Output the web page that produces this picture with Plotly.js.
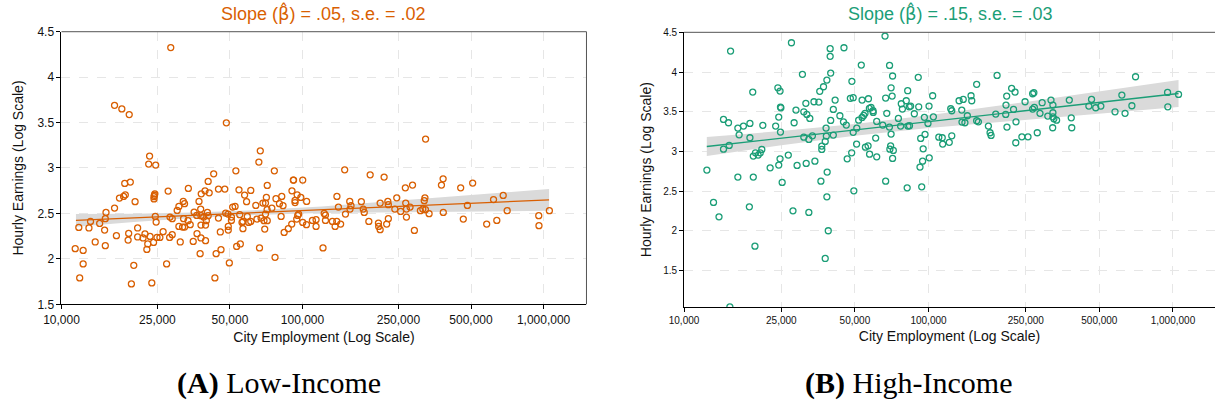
<!DOCTYPE html>
<html><head><meta charset="utf-8">
<script src="https://cdn.plot.ly/plotly-3.0.1.min.js"></script>
<style>html,body{margin:0;padding:0;background:#fff;}#chart{width:1215px;height:406px;}</style>
</head><body><div id="chart"></div>
<script>
// ---------- Panel A: Low-Income ----------
const lowEmp = [28400,16600,17800,19100,48300,23200,23000,24600,66800,65900,76400,52900,42800,91600,40600,19300,18300,71400,33600,44800,47600,54500,27700,90400,61000,39400,41000,38000,57500,18400,18100,24400,24300,95000,82000,70800,77600,17400,
324000,149600,190800,218000,91800,100200,383000,377000,508000,453000,267000,286000,138900,680000,620000,322000,246000,
11400,11800,12300,12300,11900,13000,13200,13800,14400,15100,15200,15300,15200,16600,16900,19000,18900,20200,19950,19500,20700,20700,21800,22200,22600,22800,23300,24100,23700,24200,24200,24500,24700,24900,25600,26400,27300,28100,28200,28800,28800,30200,30700,30700,31100,31800,32000,32400,32400,32100,33500,34200,35500,35200,36400,36500,37200,37800,37900,37900,37600,37900,38900,39600,39600,39900,40300,40600,43300,43800,44800,45600,45900,48000,49100,49200,49200,49700,50700,50700,51300,52500,53300,54900,55200,56100,56600,56600,59000,58600,59800,61000,64000,64700,66300,67300,68500,69200,69700,70200,70200,71400,71300,74600,76900,80200,81500,83000,83900,87300,90200,93100,93100,95500,94600,
96400,98400,100200,104000,103800,109900,113800,113800,121600,123000,124500,124500,133000,136500,138700,140900,143900,150700,157000,158900,157400,175400,178600,180300,188400,206500,207000,209900,209900,223400,225900,227000,227000,241500,255300,268000,269800,269800,279300,291100,308300,315500,319900,323600,335000,383700,464500,483100,580700,639700,706300,955000,957000,1057000];
const lowEarn = [4.325,3.69,3.65,3.588,3.497,3.131,3.043,3.032,3.189,3.065,2.969,2.969,2.936,2.867,2.852,2.845,2.830,2.808,2.775,2.768,2.768,2.760,2.746,2.749,2.753,2.749,2.727,2.716,2.702,2.705,2.687,2.716,2.70,2.705,2.687,2.676,2.662,2.669,
3.318,2.980,2.925,2.900,2.867,2.867,2.881,2.812,2.834,2.782,2.782,2.812,2.687,2.698,2.652,2.672,2.672,
2.112,2.346,2.093,1.944,1.790,2.340,2.412,2.186,2.390,2.317,2.145,2.511,2.442,2.559,2.255,2.280,2.207,2.629,1.929,1.724,2.340,2.241,2.230,2.274,2.104,2.164,2.247,2.181,1.735,2.685,2.660,2.467,2.405,2.236,2.236,2.299,1.944,2.236,2.460,2.442,2.266,2.533,2.577,2.357,2.186,2.350,2.632,2.607,2.350,2.442,2.420,2.376,2.515,2.192,2.478,2.277,2.632,2.548,2.475,2.372,2.057,2.230,2.460,2.200,2.372,2.420,2.511,2.475,1.790,2.057,2.449,2.296,2.101,2.504,2.493,2.357,2.317,1.955,2.460,2.423,2.570,2.577,2.137,2.486,2.164,2.401,2.332,2.412,2.467,2.629,2.401,2.412,2.588,2.438,2.120,2.449,2.614,2.420,2.328,2.493,2.614,2.420,2.541,2.559,2.017,2.607,2.467,2.585,2.291,2.332,2.383,2.643,2.620,2.478,2.438,
2.493,2.676,2.401,2.632,2.376,2.423,2.431,2.357,2.120,2.500,2.482,2.423,2.412,2.357,2.412,2.570,2.383,2.493,2.632,2.585,2.548,2.629,2.548,2.511,2.412,2.394,2.357,2.321,2.614,2.383,2.632,2.596,2.442,2.548,2.522,2.614,2.548,2.460,2.570,2.313,2.530,2.548,2.640,2.541,2.497,2.511,2.438,2.588,2.383,2.423,2.530,2.475,2.365,2.530];
const lowFitEmp = [11480, 1054000];
const lowFitEarn = [2.423, 2.649];
const lowBandEmp = [11480, 20000, 35000, 60000, 120000, 300000, 1054000];
const lowBandHi = [2.493, 2.496, 2.509, 2.531, 2.575, 2.656, 2.769];
const lowBandLo = [2.353, 2.406, 2.449, 2.481, 2.505, 2.516, 2.529];

// ---------- Panel B: High-Income ----------
const highEmp = [12400,14500,15200,15500,15300,14500,16600,16600,16800,17500,18600,18600,19100,19200,19200,19600,20100,20500,20800,21000,22500,23700,24400,24800,24200,24700,24800,24900,24400,24700,25200,26700,27500,28200,28700,29000,30500,30900,30900,31600,31500,31800,32400,32700,33500,34000,34300,35600,35900,36300,36600,36600,37200,37800,38200,38400,38100,38500,39600,39600,39800,39800,40800,40800,41500,43400,45100,44900,46100,46500,47900,48500,48600,49200,49200,49500,50800,50900,51800,53100,53500,53500,54300,55000,55200,56600,56800,57300,57400,58200,59300,59400,60800,61400,61400,65000,66400,66800,66800,67500,69200,69300,70300,70300,70000,69500,71300,71800,71300,71000,75300,76900,77400,78200,81100,82200,82400,83400,81800,
13200,13900,15400,18500,19500,27900,32400,38400,38900,37800,
90800,84500,91200,87500,83600,96200,100500,104000,104700,99500,92900,96800,95100,94600,92300,100700,93800,110200,113800,114300,121600,124500,123300,124500,133400,138700,136800,137100,140900,144200,149300,150300,157400,157400,160000,175800,178600,180300,190800,188400,207500,208900,207000,209400,218800,225900,222800,227500,228000,241000,248300,255300,266700,269800,266700,271000,278600,285800,291700,307600,317000,322800,322800,322800,325800,334200,322100,376700,383700,385500,452900,464500,483100,507000,579400,618000,636800,679200,703100,950600,952800,1054000];
const highEarn = [2.766,3.404,3.362,4.264,3.077,3.030,2.678,3.295,3.210,3.320,3.354,3.173,3.748,2.942,2.678,2.984,2.955,2.984,3.026,3.329,2.795,3.320,3.433,3.244,3.802,3.761,3.559,3.550,2.829,2.908,2.611,2.955,4.369,3.362,3.521,2.825,3.971,3.181,3.500,2.850,3.606,3.467,3.152,3.417,3.198,3.626,2.879,3.622,3.757,2.627,3.026,3.068,3.815,3.127,3.194,3.899,3.295,2.741,4.294,4.198,3.987,3.391,3.207,3.530,3.647,3.450,4.306,3.374,3.333,2.908,3.669,2.984,3.883,3.677,3.241,2.505,3.093,3.295,3.395,4.088,3.647,3.429,3.454,3.480,3.055,3.072,3.664,3.543,2.967,3.555,3.513,3.492,3.169,2.933,3.379,3.333,4.453,2.627,3.673,3.480,3.307,4.084,3.802,3.219,3.072,3.030,3.950,3.014,2.913,3.698,3.417,3.320,3.601,3.534,3.639,3.765,3.320,3.563,2.543,
2.359,2.178,1.044,2.304,1.809,2.253,2.233,2.430,2.003,1.654,
3.933,3.572,3.563,3.475,3.324,3.430,3.572,3.702,3.437,3.354,3.165,3.215,3.034,2.879,2.804,2.921,2.555,3.181,3.173,3.093,3.115,3.198,3.538,3.513,3.639,3.656,3.521,3.370,3.362,3.450,3.702,3.639,3.845,3.387,3.374,3.320,3.236,3.203,3.958,3.471,3.584,3.698,3.467,3.307,3.795,3.748,3.530,3.110,3.374,3.185,3.626,3.185,3.727,3.740,3.534,3.555,3.236,3.480,3.614,3.446,3.647,3.488,3.437,3.584,3.412,3.395,3.299,3.647,3.424,3.299,3.572,3.656,3.551,3.572,3.500,3.710,3.480,3.576,3.941,3.744,3.563,3.719];
const highFitEmp = [12390, 1054000];
const highFitEarn = [3.063, 3.730];
const highBandEmp = [12390, 25000, 50000, 100000, 250000, 1054000];
const highBandHi = [3.183, 3.258, 3.347, 3.456, 3.624, 3.900];
const highBandLo = [2.943, 3.078, 3.197, 3.296, 3.404, 3.560];

const xTickVals = [10000, 25000, 50000, 100000, 250000, 500000, 1000000];
const xTickText = ['10,000', '25,000', '50,000', '100,000', '250,000', '500,000', '1,000,000'];
const yTickVals = [1.5, 2, 2.5, 3, 3.5, 4, 4.5];
const yTickText = ['1.5', '2', '2.5', '3', '3.5', '4', '4.5'];

const ORANGE = '#d95f02', GREEN = '#1b9e77', BAND = '#dadada';

function band(xs, hi, lo, xa, ya) {
  return {x: xs.concat(xs.slice().reverse()), y: hi.concat(lo.slice().reverse()),
    type: 'scatter', mode: 'lines', fill: 'toself', fillcolor: BAND,
    line: {width: 0, color: BAND}, hoverinfo: 'skip', showlegend: false, xaxis: xa, yaxis: ya};
}
function pts(xs, ys, c, xa, ya) {
  return {x: xs, y: ys, type: 'scatter', mode: 'markers',
    marker: {symbol: 'circle-open', size: 6, color: c, line: {width: 1.3, color: c}},
    showlegend: false, xaxis: xa, yaxis: ya};
}
function fit(xs, ys, c, xa, ya) {
  return {x: xs, y: ys, type: 'scatter', mode: 'lines', line: {color: c, width: 1.3},
    showlegend: false, xaxis: xa, yaxis: ya};
}

const data = [
  band(lowBandEmp, lowBandHi, lowBandLo, 'x', 'y'),
  pts(lowEmp, lowEarn, ORANGE, 'x', 'y'),
  fit(lowFitEmp, lowFitEarn, ORANGE, 'x', 'y'),
  band(highBandEmp, highBandHi, highBandLo, 'x2', 'y2'),
  pts(highEmp, highEarn, GREEN, 'x2', 'y2'),
  fit(highFitEmp, highFitEarn, GREEN, 'x2', 'y2')
];

const FONT = 'Liberation Sans, Arial, Helvetica, sans-serif';
function xax(domain, range, fs, anchor) {
  return {domain: domain, type: 'log', range: range, anchor: anchor,
    tickvals: xTickVals, ticktext: xTickText, ticks: 'outside', ticklen: 4, tickcolor: '#000',
    showline: true, linecolor: '#000', linewidth: 1, showgrid: true, gridcolor: '#e6e6e6',
    griddash: 'dash', gridwidth: 1, zeroline: false, tickfont: {size: fs, color: '#111'},
    title: {text: 'City Employment (Log Scale)', font: {size: 14, color: '#111'}, standoff: 6}};
}
function yax(domain, range, fs, anchor, standoff) {
  return {domain: domain, range: range, anchor: anchor,
    tickvals: yTickVals, ticktext: yTickText, ticks: 'outside', ticklen: 4, tickcolor: '#000',
    showline: true, linecolor: '#000', linewidth: 1, showgrid: true, gridcolor: '#e6e6e6',
    griddash: 'dash', gridwidth: 1, zeroline: false, tickfont: {size: fs, color: '#111'},
    title: {text: 'Hourly Earnings (Log Scale)', font: {size: 14, color: '#111'}, standoff: standoff}};
}

const HAT = '<span style="font-family:DejaVu Sans">\u03B2\u0302</span>';
const SERIF = 'Liberation Serif, Times New Roman, serif';

const layout = {
  width: 1215, height: 406, margin: {l: 0, r: 0, t: 0, b: 0},
  paper_bgcolor: '#fff', plot_bgcolor: '#fff', showlegend: false,
  font: {family: FONT, color: '#111'},
  xaxis: xax([0.0506, 0.4827], [4, 6.178], 12, 'y'),
  yaxis: yax([0.2505, 0.9219], [1.5, 4.5], 12, 'x', 10),
  xaxis2: xax([0.563, 1.0], [4, 6.172], 10, 'y2'),
  yaxis2: yax([0.2438, 0.9204], [1.043, 4.5], 10, 'x2', 8),
  shapes: [
    {type: 'line', xref: 'x domain', yref: 'y domain', x0: 0, x1: 1, y0: 1, y1: 1, line: {color: '#555', width: 1}},
    {type: 'line', xref: 'x domain', yref: 'y domain', x0: 1, x1: 1, y0: 0, y1: 1, line: {color: '#555', width: 1}},
    {type: 'line', xref: 'x2 domain', yref: 'y2 domain', x0: 0, x1: 1, y0: 1, y1: 1, line: {color: '#555', width: 1}}
  ],
  annotations: [
    {text: 'Slope (' + HAT + ') = .05, s.e. = .02', xref: 'paper', yref: 'paper', x: 323.5/1215, y: 1 - 13/406,
     xanchor: 'center', yanchor: 'middle', showarrow: false, font: {size: 18, color: ORANGE}},
    {text: 'Slope (' + HAT + ') = .15, s.e. = .03', xref: 'paper', yref: 'paper', x: 950/1215, y: 1 - 13/406,
     xanchor: 'center', yanchor: 'middle', showarrow: false, font: {size: 18, color: GREEN}},
    {text: '<b>(A)</b> Low-Income', xref: 'paper', yref: 'paper', x: 279/1215, y: 1 - 383/406,
     xanchor: 'center', yanchor: 'middle', showarrow: false, font: {size: 30, color: '#000', family: SERIF}},
    {text: '<b>(B)</b> High-Income', xref: 'paper', yref: 'paper', x: 908/1215, y: 1 - 383/406,
     xanchor: 'center', yanchor: 'middle', showarrow: false, font: {size: 30, color: '#000', family: SERIF}}
  ]
};

Plotly.newPlot('chart', data, layout, {displayModeBar: false, staticPlot: true});
</script>
</body></html>
